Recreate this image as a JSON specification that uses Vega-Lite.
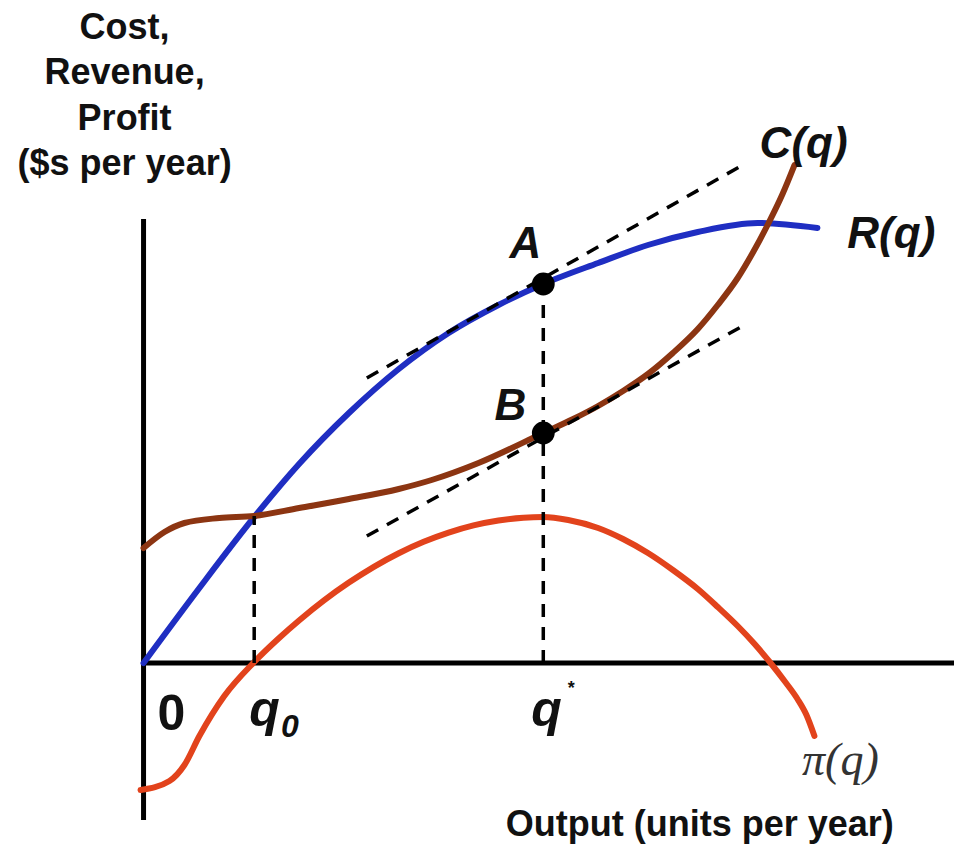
{
  "$schema": "https://vega.github.io/schema/vega-lite/v6.json",
  "width": 957,
  "height": 844,
  "autosize": {"type": "fit", "contains": "padding"},
  "padding": 0,
  "background": "white",
  "config": {"view": {"stroke": null}},
  "datasets": {
    "curves": [
      {"series": "R", "q": 0, "v": 0},
      {"series": "R", "q": 5.6, "v": 7.5},
      {"series": "R", "q": 11.1, "v": 14.6},
      {"series": "R", "q": 15.6, "v": 19.9},
      {"series": "R", "q": 20.6, "v": 25.0},
      {"series": "R", "q": 25.6, "v": 29.4},
      {"series": "R", "q": 30.6, "v": 33.0},
      {"series": "R", "q": 35.6, "v": 35.8},
      {"series": "R", "q": 40.1, "v": 37.9},
      {"series": "R", "q": 45.6, "v": 40.0},
      {"series": "R", "q": 50.6, "v": 41.8},
      {"series": "R", "q": 55.6, "v": 43.1},
      {"series": "R", "q": 61.6, "v": 44.0},
      {"series": "R", "q": 67.6, "v": 43.5},
      {"series": "C", "q": 0, "v": 11.5},
      {"series": "C", "q": 2.1, "v": 13.1},
      {"series": "C", "q": 4.1, "v": 14.0},
      {"series": "C", "q": 7.6, "v": 14.5},
      {"series": "C", "q": 11.1, "v": 14.7},
      {"series": "C", "q": 15.6, "v": 15.5},
      {"series": "C", "q": 20.6, "v": 16.4},
      {"series": "C", "q": 25.6, "v": 17.4},
      {"series": "C", "q": 28.9, "v": 18.3},
      {"series": "C", "q": 33.6, "v": 20.0},
      {"series": "C", "q": 40.1, "v": 23.0},
      {"series": "C", "q": 43.1, "v": 24.4},
      {"series": "C", "q": 45.6, "v": 25.7},
      {"series": "C", "q": 48.1, "v": 27.2},
      {"series": "C", "q": 50.6, "v": 28.9},
      {"series": "C", "q": 53.1, "v": 31.0},
      {"series": "C", "q": 55.6, "v": 33.4},
      {"series": "C", "q": 57.6, "v": 35.8},
      {"series": "C", "q": 59.6, "v": 38.5},
      {"series": "C", "q": 61.1, "v": 41.0},
      {"series": "C", "q": 62.6, "v": 43.8},
      {"series": "C", "q": 64.1, "v": 46.9},
      {"series": "C", "q": 65.3, "v": 49.8},
      {"series": "P", "q": -0.3, "v": -12.7},
      {"series": "P", "q": 2.6, "v": -11.8},
      {"series": "P", "q": 4.1, "v": -10.2},
      {"series": "P", "q": 5.6, "v": -7.3},
      {"series": "P", "q": 8.1, "v": -3.3},
      {"series": "P", "q": 11.1, "v": 0.1},
      {"series": "P", "q": 13.6, "v": 2.5},
      {"series": "P", "q": 15.6, "v": 4.25},
      {"series": "P", "q": 18.1, "v": 6.26},
      {"series": "P", "q": 20.6, "v": 8.04},
      {"series": "P", "q": 23.1, "v": 9.62},
      {"series": "P", "q": 25.6, "v": 10.98},
      {"series": "P", "q": 28.1, "v": 12.12},
      {"series": "P", "q": 30.6, "v": 13.04},
      {"series": "P", "q": 33.1, "v": 13.76},
      {"series": "P", "q": 35.6, "v": 14.25},
      {"series": "P", "q": 38.1, "v": 14.53},
      {"series": "P", "q": 40.1, "v": 14.6},
      {"series": "P", "q": 42.6, "v": 14.3},
      {"series": "P", "q": 45.6, "v": 13.5},
      {"series": "P", "q": 48.1, "v": 12.4},
      {"series": "P", "q": 50.6, "v": 11.0},
      {"series": "P", "q": 53.1, "v": 9.3},
      {"series": "P", "q": 55.6, "v": 7.4},
      {"series": "P", "q": 57.6, "v": 5.6},
      {"series": "P", "q": 59.6, "v": 3.7},
      {"series": "P", "q": 61.3, "v": 1.9},
      {"series": "P", "q": 62.9, "v": 0},
      {"series": "P", "q": 64.3, "v": -1.8},
      {"series": "P", "q": 65.6, "v": -3.6},
      {"series": "P", "q": 66.5, "v": -5.2},
      {"series": "P", "q": 67.3, "v": -7.3}
    ],
    "axes": [
      {"x": 0, "y": -15.7, "x2": 0, "y2": 44.4},
      {"x": 0, "y": 0, "x2": 81.3, "y2": 0}
    ],
    "dashes": [
      {"x": 22.4, "y": 28.5, "x2": 60.1, "y2": 49.8},
      {"x": 22.4, "y": 12.7, "x2": 60.1, "y2": 33.7},
      {"x": 11.1, "y": 0, "x2": 11.1, "y2": 14.7},
      {"x": 40.1, "y": 0, "x2": 40.1, "y2": 37.9}
    ],
    "points": [
      {"name": "A", "q": 40.1, "v": 37.9},
      {"name": "B", "q": 40.1, "v": 23.0}
    ],
    "labels": [
      {"style": "title", "text": "Cost,", "x": -1.9, "y": 62.4},
      {"style": "title", "text": "Revenue,", "x": -1.9, "y": 57.9},
      {"style": "title", "text": "Profit", "x": -1.9, "y": 53.3},
      {"style": "title", "text": "($s per year)", "x": -1.9, "y": 48.8},
      {"style": "title", "text": "Output (units per year)", "x": 55.8, "y": -17.3},
      {"style": "curve", "text": "C(q)", "x": 61.8, "y": 50.5},
      {"style": "curve", "text": "R(q)", "x": 70.6, "y": 41.5},
      {"style": "point", "text": "A", "x": 38.3, "y": 40.5},
      {"style": "point", "text": "B", "x": 36.8, "y": 24.3},
      {"style": "tick", "text": "0", "x": 2.8, "y": -6.7},
      {"style": "q", "text": "q", "x": 10.6, "y": -6.3},
      {"style": "q", "text": "q", "x": 38.9, "y": -6.3},
      {"style": "sub", "text": "0", "x": 13.8, "y": -7.4},
      {"style": "sup", "text": "*", "x": 42.9, "y": -3.1},
      {"style": "pi", "text": "π(q)", "x": 69.9, "y": -11.2}
    ]
  },
  "layer": [
    {
      "data": {"name": "axes"},
      "mark": {"type": "rule", "color": "black", "strokeWidth": 5},
      "encoding": {
        "x": {"field": "x", "type": "quantitative", "scale": {"domain": [-14.4, 81.3], "nice": false, "zero": false}, "axis": null},
        "y": {"field": "y", "type": "quantitative", "scale": {"domain": [-18.1, 66.3], "nice": false, "zero": false}, "axis": null},
        "x2": {"field": "x2"},
        "y2": {"field": "y2"}
      }
    },
    {
      "data": {"name": "curves"},
      "mark": {"type": "line", "strokeWidth": 6, "interpolate": "monotone", "strokeCap": "round"},
      "encoding": {
        "x": {"field": "q", "type": "quantitative", "axis": null},
        "y": {"field": "v", "type": "quantitative", "axis": null},
        "color": {"field": "series", "type": "nominal", "scale": {"domain": ["R", "C", "P"], "range": ["#1f2ec2", "#8c3512", "#e2431c"]}, "legend": null},
        "order": {"field": "q", "type": "quantitative"}
      }
    },
    {
      "data": {"name": "dashes"},
      "mark": {"type": "rule", "color": "black", "strokeWidth": 3.5, "strokeDash": [13, 10]},
      "encoding": {
        "x": {"field": "x", "type": "quantitative", "axis": null},
        "y": {"field": "y", "type": "quantitative", "axis": null},
        "x2": {"field": "x2"},
        "y2": {"field": "y2"}
      }
    },
    {
      "data": {"name": "points"},
      "mark": {"type": "point", "filled": true, "color": "black", "opacity": 1, "size": 520},
      "encoding": {
        "x": {"field": "q", "type": "quantitative", "axis": null},
        "y": {"field": "v", "type": "quantitative", "axis": null}
      }
    },
    {
      "data": {"name": "labels"},
      "transform": [{"filter": "datum.style === 'title'"}],
      "mark": {"type": "text", "font": "Liberation Sans", "fontWeight": "bold", "fontSize": 36, "align": "center", "baseline": "alphabetic", "color": "#111"},
      "encoding": {
        "x": {"field": "x", "type": "quantitative", "axis": null},
        "y": {"field": "y", "type": "quantitative", "axis": null},
        "text": {"field": "text"}
      }
    },
    {
      "data": {"name": "labels"},
      "transform": [{"filter": "datum.style === 'curve'"}],
      "mark": {"type": "text", "font": "Liberation Sans", "fontStyle": "italic", "fontWeight": "bold", "fontSize": 44, "align": "left", "baseline": "alphabetic", "color": "#111"},
      "encoding": {
        "x": {"field": "x", "type": "quantitative", "axis": null},
        "y": {"field": "y", "type": "quantitative", "axis": null},
        "text": {"field": "text"}
      }
    },
    {
      "data": {"name": "labels"},
      "transform": [{"filter": "datum.style === 'point'"}],
      "mark": {"type": "text", "font": "Liberation Sans", "fontStyle": "italic", "fontWeight": "bold", "fontSize": 44, "align": "center", "baseline": "alphabetic", "color": "#111"},
      "encoding": {
        "x": {"field": "x", "type": "quantitative", "axis": null},
        "y": {"field": "y", "type": "quantitative", "axis": null},
        "text": {"field": "text"}
      }
    },
    {
      "data": {"name": "labels"},
      "transform": [{"filter": "datum.style === 'tick'"}],
      "mark": {"type": "text", "font": "Liberation Sans", "fontWeight": "bold", "fontSize": 50, "align": "center", "baseline": "alphabetic", "color": "#111"},
      "encoding": {
        "x": {"field": "x", "type": "quantitative", "axis": null},
        "y": {"field": "y", "type": "quantitative", "axis": null},
        "text": {"field": "text"}
      }
    },
    {
      "data": {"name": "labels"},
      "transform": [{"filter": "datum.style === 'q'"}],
      "mark": {"type": "text", "font": "Liberation Sans", "fontStyle": "italic", "fontWeight": "bold", "fontSize": 50, "align": "left", "baseline": "alphabetic", "color": "#111"},
      "encoding": {
        "x": {"field": "x", "type": "quantitative", "axis": null},
        "y": {"field": "y", "type": "quantitative", "axis": null},
        "text": {"field": "text"}
      }
    },
    {
      "data": {"name": "labels"},
      "transform": [{"filter": "datum.style === 'sub'"}],
      "mark": {"type": "text", "font": "Liberation Sans", "fontStyle": "italic", "fontWeight": "bold", "fontSize": 32, "align": "left", "baseline": "alphabetic", "color": "#111"},
      "encoding": {
        "x": {"field": "x", "type": "quantitative", "axis": null},
        "y": {"field": "y", "type": "quantitative", "axis": null},
        "text": {"field": "text"}
      }
    },
    {
      "data": {"name": "labels"},
      "transform": [{"filter": "datum.style === 'sup'"}],
      "mark": {"type": "text", "font": "Liberation Sans", "fontWeight": "bold", "fontSize": 18, "align": "center", "baseline": "alphabetic", "color": "#111"},
      "encoding": {
        "x": {"field": "x", "type": "quantitative", "axis": null},
        "y": {"field": "y", "type": "quantitative", "axis": null},
        "text": {"field": "text"}
      }
    },
    {
      "data": {"name": "labels"},
      "transform": [{"filter": "datum.style === 'pi'"}],
      "mark": {"type": "text", "font": "Liberation Serif", "fontStyle": "italic", "fontSize": 46, "align": "center", "baseline": "alphabetic", "color": "#333"},
      "encoding": {
        "x": {"field": "x", "type": "quantitative", "axis": null},
        "y": {"field": "y", "type": "quantitative", "axis": null},
        "text": {"field": "text"}
      }
    }
  ]
}
